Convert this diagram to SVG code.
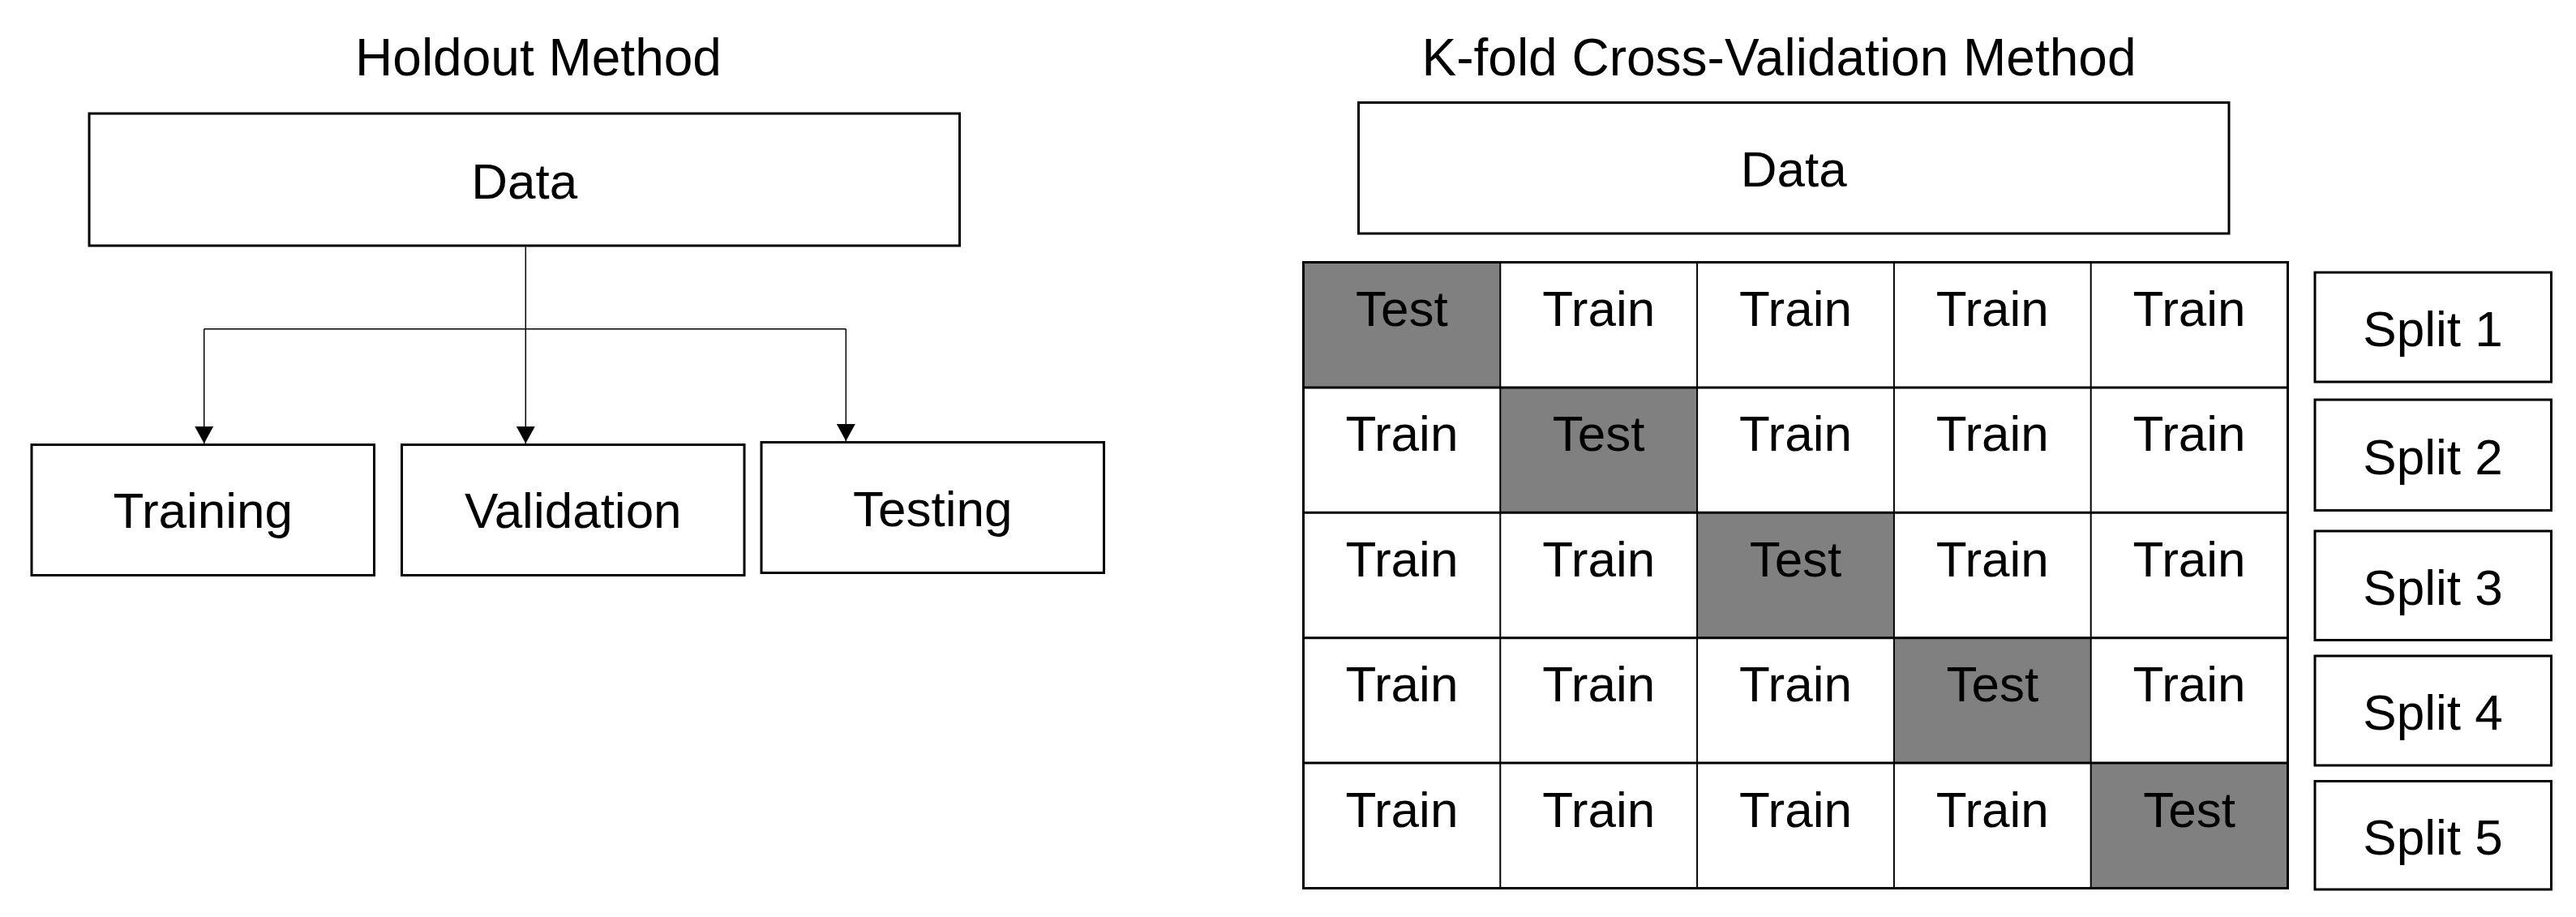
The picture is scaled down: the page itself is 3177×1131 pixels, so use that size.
<svg xmlns="http://www.w3.org/2000/svg" width="3177" height="1131" viewBox="0 0 3177 1131">
<style>
  text { font-family: "Liberation Sans", Arial, sans-serif; font-size: 62px; fill: #000; text-anchor: middle; }
  .title { font-size: 64px; }
  .box { fill: #fff; stroke: #000; stroke-width: 3; }
  .conn { fill: none; stroke: #000; stroke-width: 1.5; }
  .cell { fill: #fff; stroke: none; }
  .test { fill: #808080; stroke: none; }
  .vline { stroke: #000; stroke-width: 2; }
  .hline { stroke: #000; stroke-width: 3; }
</style>
<defs>
  <marker id="arrow" markerUnits="userSpaceOnUse" markerWidth="21" markerHeight="23" refX="21" refY="11.5" orient="auto" viewBox="0 0 21 23">
    <path d="M0,0 L21,11.5 L0,23 z" fill="#000"/>
  </marker>
</defs>
<rect width="3177" height="1131" fill="#fff"/>

<!-- Holdout Method -->
<text class="title" x="664" y="93">Holdout Method</text>
<g id="h-data"><rect class="box" x="110" y="140" width="1073.5" height="163"/><text x="646.75" y="245">Data</text></g>
<g id="h-training"><rect class="box" x="39" y="548.5" width="422.5" height="161"/><text x="250.25" y="651">Training</text></g>
<g id="h-validation"><rect class="box" x="495.5" y="548.5" width="422.5" height="161"/><text x="706.75" y="651">Validation</text></g>
<g id="h-testing"><rect class="box" x="939" y="545.5" width="422.5" height="161"/><text x="1150.25" y="648.5">Testing</text></g>
<g id="connectors">
  <line class="conn" x1="648.3" y1="304.5" x2="648.3" y2="547" marker-end="url(#arrow)"/>
  <line class="conn" x1="251.7" y1="405.7" x2="1043.3" y2="405.7"/>
  <line class="conn" x1="251.7" y1="405.7" x2="251.7" y2="547" marker-end="url(#arrow)"/>
  <line class="conn" x1="1043.3" y1="405.7" x2="1043.3" y2="544" marker-end="url(#arrow)"/>
</g>

<!-- K-fold Cross-Validation Method -->
<text class="title" x="2194" y="93">K-fold Cross-Validation Method</text>
<g id="k-data"><rect class="box" x="1675.5" y="126.5" width="1073.5" height="161.5"/><text x="2212.25" y="230">Data</text></g>

<g id="grid">
  <rect class="cell" x="1607.5" y="323.5" width="1214" height="772"/>
  <rect class="test" x="1607.5" y="323.5" width="242.8" height="154.4"/>
  <rect class="test" x="1850.3" y="477.9" width="242.8" height="154.4"/>
  <rect class="test" x="2093.1" y="632.3" width="242.8" height="154.4"/>
  <rect class="test" x="2335.9" y="786.7" width="242.8" height="154.4"/>
  <rect class="test" x="2578.7" y="941.1" width="242.8" height="154.4"/>
  <line class="vline" x1="1850.3" y1="323.5" x2="1850.3" y2="1095.5"/>
  <line class="vline" x1="2093.1" y1="323.5" x2="2093.1" y2="1095.5"/>
  <line class="vline" x1="2335.9" y1="323.5" x2="2335.9" y2="1095.5"/>
  <line class="vline" x1="2578.7" y1="323.5" x2="2578.7" y2="1095.5"/>
  <line class="hline" x1="1607.5" y1="477.9" x2="2821.5" y2="477.9"/>
  <line class="hline" x1="1607.5" y1="632.3" x2="2821.5" y2="632.3"/>
  <line class="hline" x1="1607.5" y1="786.7" x2="2821.5" y2="786.7"/>
  <line class="hline" x1="1607.5" y1="941.1" x2="2821.5" y2="941.1"/>
  <rect x="1607.5" y="323.5" width="1214" height="772" fill="none" stroke="#000" stroke-width="3"/>

  <text x="1728.9" y="401.9">Test</text><text x="1971.7" y="401.9">Train</text><text x="2214.5" y="401.9">Train</text><text x="2457.3" y="401.9">Train</text><text x="2700.1" y="401.9">Train</text>
  <text x="1728.9" y="556.3">Train</text><text x="1971.7" y="556.3">Test</text><text x="2214.5" y="556.3">Train</text><text x="2457.3" y="556.3">Train</text><text x="2700.1" y="556.3">Train</text>
  <text x="1728.9" y="710.7">Train</text><text x="1971.7" y="710.7">Train</text><text x="2214.5" y="710.7">Test</text><text x="2457.3" y="710.7">Train</text><text x="2700.1" y="710.7">Train</text>
  <text x="1728.9" y="865.1">Train</text><text x="1971.7" y="865.1">Train</text><text x="2214.5" y="865.1">Train</text><text x="2457.3" y="865.1">Test</text><text x="2700.1" y="865.1">Train</text>
  <text x="1728.9" y="1019.5">Train</text><text x="1971.7" y="1019.5">Train</text><text x="2214.5" y="1019.5">Train</text><text x="2457.3" y="1019.5">Train</text><text x="2700.1" y="1019.5">Test</text>
</g>

<g id="split1"><rect class="box" x="2855" y="336" width="291.5" height="135"/><text x="3000.5" y="427">Split 1</text></g>
<g id="split2"><rect class="box" x="2855" y="493" width="291.5" height="136.5"/><text x="3000.5" y="584.5">Split 2</text></g>
<g id="split3"><rect class="box" x="2855" y="655" width="291.5" height="134.5"/><text x="3000.5" y="745.5">Split 3</text></g>
<g id="split4"><rect class="box" x="2855" y="809" width="291.5" height="135"/><text x="3000.5" y="900">Split 4</text></g>
<g id="split5"><rect class="box" x="2855" y="963.5" width="291.5" height="133.5"/><text x="3000.5" y="1053.5">Split 5</text></g>
</svg>
